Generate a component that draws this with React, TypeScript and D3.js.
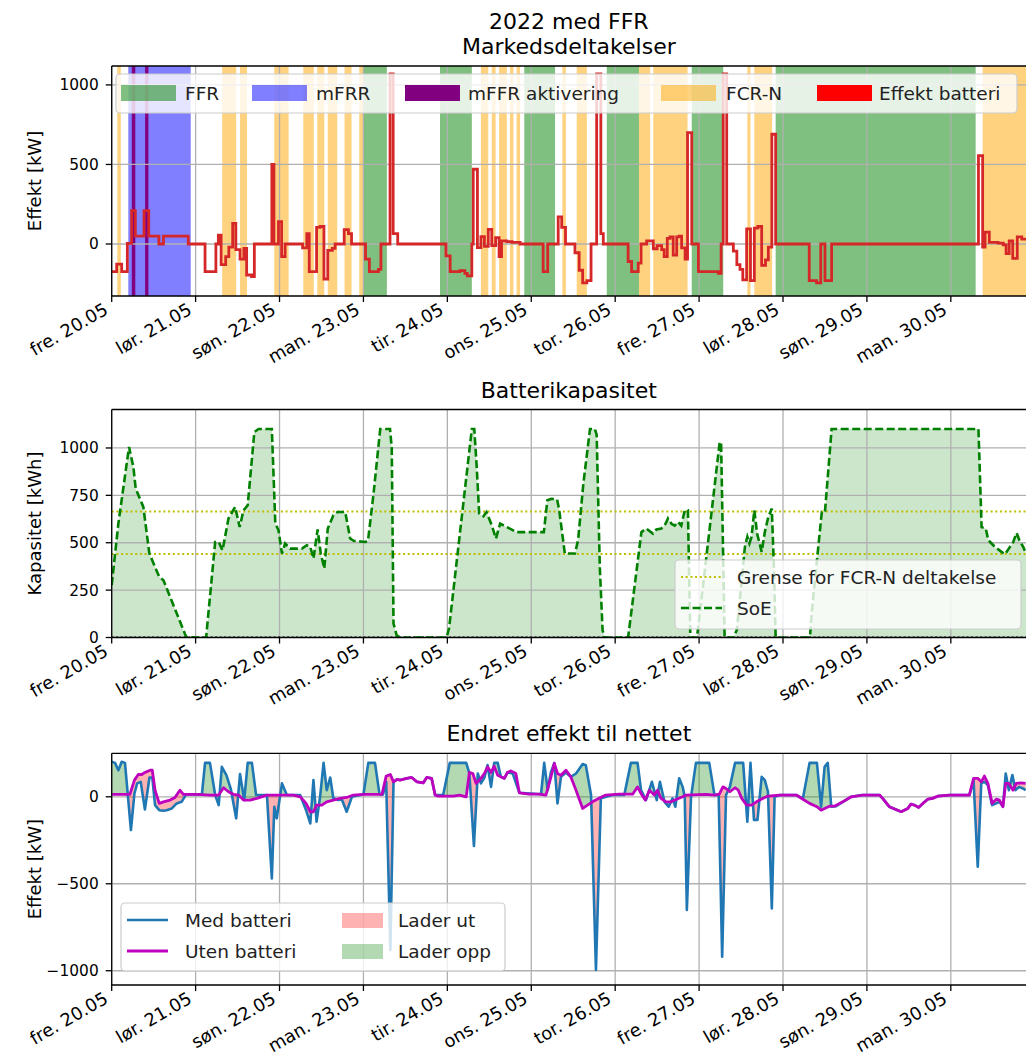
import React from "react";
import * as d3 from "d3";

// ---------- data (hours since fre. 20.05 00:00) ----------
const dayLabels = ["fre. 20.05", "lør. 21.05", "søn. 22.05", "man. 23.05", "tir. 24.05", "ons. 25.05", "tor. 26.05", "fre. 27.05", "lør. 28.05", "søn. 29.05", "man. 30.05"];
const dayTicks = [0, 24, 48, 72, 96, 120, 144, 168, 192, 216, 240];

const ffrBands: [number, number][] = [[71.9, 78.7], [93.9, 103], [118, 126.8], [141.6, 150.8], [165.9, 174.9], [189.9, 247.1]];
const mfrrBands: [number, number][] = [[4.75, 22.6]];
const mfrrActivation: [number, number][] = [[5.75, 6.75], [9.55, 10.5]];
const fcrnBands: [number, number][] = [
  [1.6, 2.6], [31.6, 35.6], [36.7, 38.7], [46.5, 50.6], [54.8, 57.8], [58.8, 60.8], [61.8, 64.5], [66.6, 68.6], [70.8, 71.9],
  [105.6, 107.7], [108.7, 109.8], [110.8, 113], [113.9, 114.9], [115.8, 116.8], [128.9, 129.9], [133, 135.9],
  [150.8, 154], [154.9, 164.7], [181.8, 182.7], [183.8, 188.9], [249.1, 262],
];

const batteryPower: [number, number][] = [
  [0, -174], [1.43, -126], [2.86, -174], [4.47, 4], [5.7, 210], [6.76, 50], [9.24, 210], [10.6, 50], [13.5, 0], [14.8, 50], [21.9, 0],
  [26.7, -174], [29.8, 0], [30.5, 55], [31.3, -130], [32.6, -80], [33.5, -20], [34.6, 130], [35.5, -35], [36.7, -95], [37.8, -28], [38.6, -195], [40, -205], [40.8, 0],
  [45.8, 500], [46.4, 0], [47.7, 140], [48.6, -80], [49.6, 0], [54.6, -25], [55.8, 65], [56.5, -174], [58.6, 105], [59.6, 110], [60.7, -220], [61.8, -40], [63.1, -28], [63.9, 0],
  [66.5, 90], [67.7, 65], [68.6, 0], [72.6, -95], [73.7, -174], [76.3, -160], [77, 0], [79.6, 1070], [80.5, 65], [81.8, 0],
  [95.6, -75], [96.8, -174], [99.6, -168], [101, -185], [101.7, -200], [103, 0], [103.4, 470], [104.6, -23], [105.6, 46], [106.6, -15], [107.7, 92], [108.7, -10], [109.8, 40],
  [110.8, -80], [111.5, 20], [113, 15], [114.5, 10], [116.8, 0], [123.4, -174], [124.7, 0], [127.7, 170], [128.7, 105], [129.8, 0], [132.5, -55], [133.7, -165], [134.7, -245], [135.9, -230], [137.1, 0],
  [138.7, 1070], [139.9, 65], [140.6, 0], [147.7, -110], [148.7, -174], [150.6, -120], [151.4, 0], [153, 20], [154.9, -30], [156, -10], [157.3, -35], [158, -80], [158.9, 35], [159.7, 45],
  [160.6, -70], [161.6, 45], [162.3, 50], [163, -25], [164, -95], [164.7, 700], [165.9, 0], [167.8, -174], [173.5, -185], [174.3, 0], [174.9, 1070], [175.9, 0], [177.8, -45],
  [178.8, -130], [179.7, -160], [180.5, -225], [181.6, 95], [182.7, -230], [183.8, 100], [184.8, 110], [185.9, -135], [187, -100], [187.8, -20], [188.8, 690], [189.9, 0],
  [199.5, -230], [201.6, -245], [202.8, 0], [204, -230], [205.9, 0], [247.9, 555], [249.1, -20], [249.8, 75], [251, 10], [253.5, 5], [255, -5], [255.8, -60], [256.7, 20], [257.7, -90], [259, 45], [260.3, 30], [261.5, 40],
];

const soe: [number, number][] = [
  [0, 277], [1.9, 600], [4.95, 1005], [6.2, 900], [6.86, 786], [9.05, 689], [10.77, 443], [13.6, 320], [14.8, 302], [21.3, 3], [24.35, 0], [27, 0],
  [29.6, 504], [30.6, 504], [31.7, 460], [33.4, 628], [35.3, 689], [36.6, 583], [37.7, 671], [38.9, 698], [40.8, 1084], [42, 1100], [45.8, 1100], [46.8, 601], [47.7, 566], [48.7, 443],
  [49.6, 496], [51, 469], [54.4, 469], [55.8, 487], [56.8, 478], [57.7, 417], [58.9, 570], [59.8, 443], [60.8, 364], [61.8, 575], [63.4, 645], [64.6, 662], [66.8, 662], [68.2, 522],
  [69.2, 510], [72.5, 504], [73.3, 510], [74.9, 760], [76.8, 1100], [79.6, 1100], [80.1, 1000], [80.6, 74], [81.5, 12], [82.5, 0],
  [95.8, 0], [96.5, 50], [103, 1100], [103.7, 1100], [104.4, 900], [105.1, 654], [106.3, 640], [107.2, 662], [108.7, 592], [109.9, 522], [111.1, 601], [113, 583], [115.8, 556], [123.6, 556],
  [124.6, 724], [125.8, 732], [127.4, 728], [128, 671], [129.6, 443], [132.5, 443], [133.4, 514], [134.9, 812], [136.8, 1100], [138.2, 1100], [138.7, 1070], [139.6, 372], [140.4, 38], [141, 0],
  [147.7, 0], [151.5, 556], [152.9, 575], [154.8, 548], [155.8, 570], [157.2, 575], [158.4, 600], [159.1, 628], [160.1, 600], [161, 590], [162, 610], [162.9, 590], [163.9, 671], [164.8, 671],
  [165.5, 0], [167.4, 0], [173.9, 1032], [174.3, 1020], [175.3, 0], [177.8, 0], [178.8, 40], [181.1, 478], [181.8, 531], [182.4, 496], [183, 531], [183.8, 671], [184.6, 548], [185.9, 452],
  [186.8, 557], [187.8, 636], [188.8, 680], [189.4, 372], [189.9, 0], [199.7, 0], [200.2, 127], [201.8, 425], [203.1, 662], [204, 662], [205.9, 1100], [247.9, 1100], [248.8, 583], [250, 575],
  [250.7, 514], [252.6, 478], [254.5, 452], [255.5, 439], [256.9, 478], [257.7, 496], [258.8, 552], [259.6, 514], [260.7, 478], [261.5, 443],
];
const fcrnLimits = [665, 440];

const withoutBattery: [number, number][] = [
  [0, 14], [5.2, 14], [6.5, 96], [7.6, 128], [8.6, 128], [9.5, 140], [11, 153], [11.6, 153], [12.4, 38], [13.6, -38], [14.8, -29], [16.7, -19], [18.1, -4], [19.5, 38], [20.5, 14],
  [24.35, 14], [28.1, 10], [30.6, 10], [32, 52], [33.4, 29], [34.8, 14], [36.3, 10], [37.7, -19], [39.6, -19], [41.5, -9], [44.4, 10], [52, 10], [53.9, 0], [55.6, -38], [56.8, -86],
  [57.7, -86], [58.6, -48], [60.1, -48], [61.5, -29], [63.4, -19], [65.3, -9], [67.2, -4], [69.1, 10], [72, 14], [77.3, 14], [78.5, 119], [79.7, 128], [80.6, 86], [81.6, 100], [82.5, 96],
  [84.4, 106], [85.8, 111], [87.3, 86], [89.1, 80], [90.1, 111], [91.5, 106], [92.5, 10], [93.4, 4], [97.7, 4], [99.5, 10], [101.4, 0], [102.3, 140], [103.3, 134], [104.2, 77], [105.2, 96],
  [106.6, 134], [107.5, 172], [108.5, 140], [109.4, 176], [110.4, 124], [111.3, 115], [112.3, 106], [113.2, 140], [114.2, 149], [115.6, 134], [116.6, 23], [119.4, 15], [122.3, 15], [124.2, 10],
  [125.6, 111], [126.6, 192], [127.5, 134], [128.5, 124], [129.9, 153], [131.3, 115], [132.8, 38], [134.7, -67], [136.1, -48], [137.5, -29], [139.4, -9], [141.3, 10], [145.1, 15], [149, 15],
  [150.4, 57], [151.4, 19], [152.6, -19], [153.8, 38], [155.2, 10], [156.1, 38], [157.1, -9], [158.5, -29], [160, -29], [161.4, -16], [163.3, 0], [164.2, 10], [170, 14], [172.4, 10],
  [173.8, 15], [174.8, 57], [175.7, 48], [176.8, 29], [178.3, 52], [179.2, 38], [180.2, -9], [181.6, -48], [183, -48], [184.4, -29], [186.3, -9], [187.7, 4], [191.1, 10], [195.8, 10],
  [197.7, -14], [199.6, -38], [201.7, -57], [202.9, -77], [203.9, -67], [205.3, -54], [206.7, -54], [209.1, -29], [211.5, 0], [214.8, 10], [219.6, 10], [220.5, -9], [222.4, -57], [225.8, -86],
  [227.7, -67], [228.6, -42], [229.6, -48], [230.8, -61], [232, -38], [233.4, -14], [234.8, -9], [236.3, 4], [239.6, 10], [245.3, 10], [246.5, 106], [247.7, 106], [248.7, 86], [249.6, 119],
  [250.6, 77], [251.8, -38], [253, -14], [253.9, -19], [254.9, -57], [255.7, 77], [256.6, 77], [257.8, 38], [258.7, 77], [260.1, 80], [261.4, 77],
];

const withBattery: [number, number][] = [
  [0, 201], [0.95, 195], [1.9, 153], [2.86, 201], [3.8, 195], [5.5, -191], [6.5, 19], [7.3, 77], [8.3, 86], [9.5, -73], [10.8, 111], [11.6, 111], [12.4, -48], [13.6, -77], [14.8, -80],
  [15.7, -77], [17.2, -67], [18.6, -38], [20, -29], [21.3, 14], [25.8, 14], [26.7, 195], [28.1, 195], [29.6, 10], [30.6, -48], [31.5, 172], [32.8, 125], [34.1, 42], [35.6, -124], [36.7, 131],
  [37.9, -19], [38.9, 195], [40.1, 195], [41.3, 10], [44.4, 10], [45.8, -469], [46.5, -57], [47.2, -124], [48.7, 77], [50.1, 10], [53.9, 10], [55.6, -77], [56.8, -153], [57.7, 96], [58.6, -143],
  [59.6, 0], [60.6, 195], [61.5, 38], [62.5, 111], [63.4, -9], [64.9, -19], [65.8, -14], [67.2, -86], [68.7, 0], [72, 14], [73.4, 195], [75.3, 195], [76.6, 14], [77.6, 14], [78.5, 86],
  [79.7, -880], [80.6, 86], [81.6, 100], [82.5, 96], [84.4, 106], [85.8, 111], [87.3, 86], [89.1, 80], [90.1, 111], [91.5, 106], [92.5, 10], [94.8, 10], [96.7, 195], [101.4, 195], [102.3, 134],
  [103.6, -283], [104.7, 134], [105.6, 77], [106.6, 111], [107.5, 182], [108.5, 57], [109.4, 195], [110.4, 195], [111.3, 115], [112.3, 106], [113.2, 140], [114.7, 134], [116.6, 23], [122.8, 15],
  [123.7, 195], [124.7, 38], [125.6, 140], [126.6, 195], [127.5, -38], [128.5, 115], [129.9, 140], [131.3, 115], [132.8, 134], [134.7, 188], [135.6, 182], [137.1, 10], [138.5, -996], [139.9, -9],
  [143.2, 10], [146.6, 10], [148.5, 195], [150.4, 195], [151.4, 38], [152.8, -19], [154.5, 86], [155.9, -19], [156.8, 86], [158.1, -29], [159.3, -57], [160.4, -9], [161.2, -57], [162.3, 106],
  [163.3, 57], [163.9, 0], [164.5, -651], [165.7, 0], [167.1, 195], [170.9, 195], [172.4, 10], [173.6, 10], [174.6, -920], [175.7, 10], [176.8, 57], [178.3, 195], [180.6, 195], [181.8, -143],
  [182.7, 195], [183.7, -133], [184.7, -133], [185.9, 115], [186.8, 96], [187.7, 29], [188.8, -642], [189.6, 0], [191.1, 10], [195.8, 10], [197.7, -9], [199.6, 195], [201.7, 195], [202.9, -57],
  [203.9, 172], [204.8, 195], [205.8, -57], [207.2, -54], [209.1, -29], [211.5, 0], [214.8, 10], [219.6, 10], [220.5, -9], [222.4, -57], [225.8, -86], [227.7, -67], [228.6, -42], [229.6, -48],
  [230.8, -61], [232, -38], [233.4, -14], [234.8, -9], [236.3, 4], [239.6, 10], [245.3, 10], [246.5, 96], [247.7, -402], [248.7, 77], [249.6, 86], [250.6, 67], [251.8, -48], [253, -38],
  [253.9, -29], [254.9, -57], [255.7, 134], [256.6, 38], [257.6, 125], [258.5, 38], [259.5, 57], [260.6, 48], [261.4, 38],
];

const powerTicks = [0, 500, 1000];
const capTicks = [0, 250, 500, 750, 1000];
const gridTicks = [-1000, -500, 0];

// ---------- layout ----------
const FONT = "DejaVu Sans";
const X0 = 111.7;
const X1 = 1026;
const TICK = 6;
const GRID = "#b0b0b0";

const x = d3.scaleLinear().domain([0, 261.5]).range([X0, X1]);
const P1 = { top: 66, bottom: 296 };
const P2 = { top: 409.5, bottom: 637.5 };
const P3 = { top: 753.3, bottom: 985 };
const y1 = d3.scaleLinear().domain([-327, 1119]).range([P1.bottom, P1.top]);
const y2 = d3.scaleLinear().domain([0, 1203]).range([P2.bottom, P2.top]);
const y3 = d3.scaleLinear().domain([-1082, 250]).range([P3.bottom, P3.top]);

const fmt = (v: number) => (v < 0 ? "\u2212" + Math.abs(v) : String(v));

function Grid({ y, ticks, p }: { y: d3.ScaleLinear<number, number>; ticks: number[]; p: { top: number; bottom: number } }) {
  return (
    <g stroke={GRID} strokeWidth={1.3}>
      {dayTicks.map((t) => (
        <line key={"v" + t} x1={x(t)} x2={x(t)} y1={p.top} y2={p.bottom} />
      ))}
      {ticks.map((t) => (
        <line key={"h" + t} x1={X0} x2={X1} y1={y(t)} y2={y(t)} />
      ))}
    </g>
  );
}

function Axes({ y, ticks, p, label, title }: { y: d3.ScaleLinear<number, number>; ticks: number[]; p: { top: number; bottom: number }; label: string; title: string[] }) {
  const mid = (p.top + p.bottom) / 2;
  return (
    <g fontFamily={FONT} fill="#000">
      <g stroke="#000" strokeWidth={1.3} fill="none">
        <line x1={X0} x2={X0} y1={p.top} y2={p.bottom} />
        <line x1={X0} x2={X1} y1={p.top} y2={p.top} />
        <line x1={X0} x2={X1} y1={p.bottom} y2={p.bottom} />
        {dayTicks.map((t) => (
          <line key={"xt" + t} x1={x(t)} x2={x(t)} y1={p.bottom} y2={p.bottom + TICK} />
        ))}
        {ticks.map((t) => (
          <line key={"yt" + t} x1={X0 - TICK} x2={X0} y1={y(t)} y2={y(t)} />
        ))}
      </g>
      {dayTicks.map((t, i) => (
        <text key={"xl" + t} fontSize={17.8} textAnchor="end" transform={`translate(${x(t) - 2.5},${p.bottom + 17}) rotate(-30)`}>
          {dayLabels[i]}
        </text>
      ))}
      {ticks.map((t) => (
        <text key={"yl" + t} fontSize={15.4} textAnchor="end" x={X0 - 13} y={y(t) + 5.5}>
          {fmt(t)}
        </text>
      ))}
      <text fontSize={18} textAnchor="middle" transform={`translate(${41},${mid}) rotate(-90)`}>
        {label}
      </text>
      {title.map((s, i) => (
        <text key={s} fontSize={22} textAnchor="middle" x={(X0 + X1) / 2} y={p.top - 12 - (title.length - 1 - i) * 25.5}>
          {s}
        </text>
      ))}
    </g>
  );
}

export default function App() {
  const bandRect = (b: [number, number], p: { top: number; bottom: number }, fill: string, op: number, k: string) => (
    <rect key={k} x={x(b[0])} width={x(b[1]) - x(b[0])} y={p.top} height={p.bottom - p.top} fill={fill} fillOpacity={op} />
  );

  const stepLine = d3.line<[number, number]>().x((d) => x(d[0])).y((d) => y1(d[1])).curve(d3.curveStepAfter);
  const soeLine = d3.line<[number, number]>().x((d) => x(d[0])).y((d) => y2(d[1]));
  const soeArea = d3.area<[number, number]>().x((d) => x(d[0])).y0(y2(0)).y1((d) => y2(d[1]));
  const l3 = d3.line<[number, number]>().x((d) => x(d[0])).y((d) => y3(d[1]));

  const medPath = l3(withBattery) as string;
  const utenPath = l3(withoutBattery) as string;
  const utenRev = (l3([...withoutBattery].reverse()) as string).replace(/^M/, "L");
  const between = medPath + utenRev + "Z";
  const lastU = withoutBattery[withoutBattery.length - 1][1];
  const firstU = withoutBattery[0][1];
  const aboveClip = utenPath + `L${X1 + 5},${y3(lastU)}L${X1 + 5},${P3.top - 5}L${X0 - 5},${P3.top - 5}L${X0 - 5},${y3(firstU)}Z`;
  const belowClip = utenPath + `L${X1 + 5},${y3(lastU)}L${X1 + 5},${P3.bottom + 5}L${X0 - 5},${P3.bottom + 5}L${X0 - 5},${y3(firstU)}Z`;

  const legendBox = (xx: number, yy: number, w: number, h: number) => (
    <rect x={xx} y={yy} width={w} height={h} rx={4} fill="#fff" fillOpacity={0.8} stroke="#cccccc" strokeWidth={1.2} />
  );

  return (
    <svg width={1026} height={1057} style={{ position: "absolute", left: 0, top: 0, background: "#fff" }} xmlns="http://www.w3.org/2000/svg">
      <defs>
        <clipPath id="c1"><rect x={X0} y={P1.top} width={X1 - X0} height={P1.bottom - P1.top} /></clipPath>
        <clipPath id="c2"><rect x={X0} y={P2.top} width={X1 - X0} height={P2.bottom - P2.top} /></clipPath>
        <clipPath id="c3"><rect x={X0} y={P3.top} width={X1 - X0} height={P3.bottom - P3.top} /></clipPath>
        <clipPath id="above"><path d={aboveClip} /></clipPath>
        <clipPath id="below"><path d={belowClip} /></clipPath>
      </defs>
      <rect width={1026} height={1057} fill="#fff" />

      {/* ---------- Panel 1 ---------- */}
      <g clipPath="url(#c1)">
        {fcrnBands.map((b, i) => bandRect(b, P1, "orange", 0.5, "o" + i))}
        {ffrBands.map((b, i) => bandRect(b, P1, "green", 0.5, "g" + i))}
        {mfrrBands.map((b, i) => bandRect(b, P1, "blue", 0.5, "b" + i))}
        {mfrrActivation.map((b, i) => bandRect(b, P1, "purple", 1, "p" + i))}
        <Grid y={y1} ticks={powerTicks} p={P1} />
        <path d={stepLine(batteryPower) as string} fill="none" stroke="#d62728" strokeWidth={2.8} strokeLinejoin="miter" />
      </g>
      <Axes y={y1} ticks={powerTicks} p={P1} label="Effekt [kW]" title={["2022 med FFR", "Markedsdeltakelser"]} />
      <g fontFamily={FONT} fontSize={18.5} fill="#222">
        {legendBox(116, 74, 901, 39)}
        <rect x={121} y={85} width={55} height={16} fill="green" fillOpacity={0.5} />
        <text x={185} y={99.5}>FFR</text>
        <rect x={252} y={85} width={55} height={16} fill="blue" fillOpacity={0.5} />
        <text x={316} y={99.5}>mFRR</text>
        <rect x={405} y={85} width={55} height={16} fill="purple" />
        <text x={468} y={99.5}>mFFR aktivering</text>
        <rect x={661} y={85} width={55} height={16} fill="orange" fillOpacity={0.5} />
        <text x={726} y={99.5}>FCR-N</text>
        <rect x={817} y={85} width={55} height={16} fill="red" />
        <text x={879} y={99.5}>Effekt batteri</text>
      </g>

      {/* ---------- Panel 2 ---------- */}
      <g clipPath="url(#c2)">
        <path d={soeArea(soe) as string} fill="green" fillOpacity={0.2} />
        <Grid y={y2} ticks={capTicks} p={P2} />
        {fcrnLimits.map((v) => (
          <line key={v} x1={X0} x2={X1} y1={y2(v)} y2={y2(v)} stroke="#bfbf00" strokeWidth={2} strokeDasharray="2 2.7" />
        ))}
        <line x1={X0} x2={X1} y1={y2(0)} y2={y2(0)} stroke="#000" strokeWidth={1.8} strokeDasharray="1.8 2.7" />
        <path d={soeLine(soe) as string} fill="none" stroke="green" strokeWidth={2.6} strokeDasharray="8 3.5" />
      </g>
      <Axes y={y2} ticks={capTicks} p={P2} label="Kapasitet [kWh]" title={["Batterikapasitet"]} />
      <g fontFamily={FONT} fontSize={18.5} fill="#222">
        {legendBox(675, 560, 346, 69)}
        <line x1={681} x2={722} y1={577} y2={577} stroke="#bfbf00" strokeWidth={2} strokeDasharray="2 2.7" />
        <text x={737} y={584}>Grense for FCR-N deltakelse</text>
        <line x1={681} x2={722} y1={608} y2={608} stroke="green" strokeWidth={2.6} strokeDasharray="8 3.5" />
        <text x={737} y={615}>SoE</text>
      </g>

      {/* ---------- Panel 3 ---------- */}
      <g clipPath="url(#c3)">
        <Grid y={y3} ticks={gridTicks} p={P3} />
        <g clipPath="url(#above)">
          <path d={between} fill="green" fillOpacity={0.3} fillRule="nonzero" />
        </g>
        <g clipPath="url(#below)">
          <path d={between} fill="red" fillOpacity={0.3} fillRule="nonzero" />
        </g>
        <path d={medPath} fill="none" stroke="#1f77b4" strokeWidth={2.6} strokeLinejoin="round" />
        <path d={utenPath} fill="none" stroke="#bf00bf" strokeWidth={2.8} strokeLinejoin="round" />
      </g>
      <Axes y={y3} ticks={gridTicks} p={P3} label="Effekt [kW]" title={["Endret effekt til nettet"]} />
      <g fontFamily={FONT} fontSize={18.5} fill="#222">
        {legendBox(121, 903, 384, 68)}
        <line x1={127} x2={168} y1={920} y2={920} stroke="#1f77b4" strokeWidth={2.6} />
        <text x={185} y={927}>Med batteri</text>
        <line x1={127} x2={168} y1={951} y2={951} stroke="#bf00bf" strokeWidth={2.8} />
        <text x={185} y={958}>Uten batteri</text>
        <rect x={342} y={913} width={41} height={15} fill="red" fillOpacity={0.3} />
        <text x={398} y={927}>Lader ut</text>
        <rect x={342} y={944} width={41} height={15} fill="green" fillOpacity={0.3} />
        <text x={398} y={958}>Lader opp</text>
      </g>
    </svg>
  );
}
